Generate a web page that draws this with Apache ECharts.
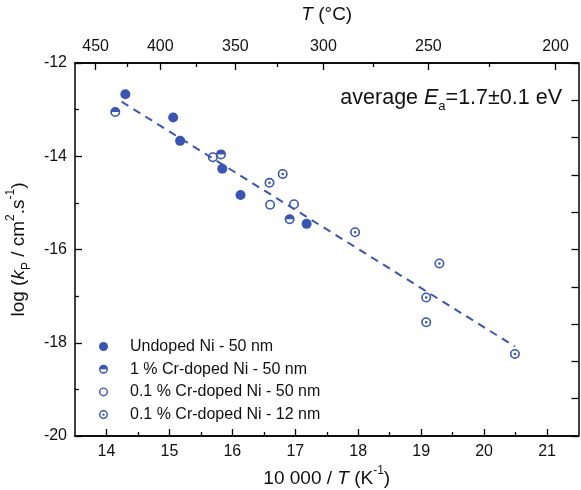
<!DOCTYPE html>
<html>
<head>
<meta charset="utf-8">
<script src="https://cdn.jsdelivr.net/npm/echarts@6/dist/echarts.min.js"></script>
<style>html,body{margin:0;padding:0;background:#fff}#c{width:581px;height:490px}</style>
</head>
<body>
<div id="c"></div>
<script>
// ---- data ----
const undopedX = [14.30, 15.06, 15.17, 15.84, 16.13, 17.18];
const undopedY = [-12.67, -13.17, -13.67, -14.27, -14.83, -15.45];
const cr1X = [14.14, 15.82, 16.91];
const cr1Y = [-13.05, -13.96, -15.35];
const cr01n50X = [15.69, 16.60, 16.98];
const cr01n50Y = [-14.02, -15.04, -15.03];
const cr01n12X = [16.59, 16.80, 17.95, 19.29, 19.08, 19.08, 20.49];
const cr01n12Y = [-14.57, -14.38, -15.63, -16.30, -17.03, -17.56, -18.24];
const fitX = [14.24, 20.49];
const fitY = [-12.83, -18.08];
const seriesNames = ['Undoped Ni - 50 nm', '1 % Cr-doped Ni - 50 nm', '0.1 % Cr-doped Ni - 50 nm', '0.1 % Cr-doped Ni - 12 nm'];
const bottomMajor = [14, 15, 16, 17, 18, 19, 20, 21];
const bottomMinor = [14.5, 15.5, 16.5, 17.5, 18.5, 19.5, 20.5];
const topMajorC = [450, 400, 350, 300, 250, 200];
const topMinorC = [425, 375, 325, 275, 225];

const zip = (xs, ys) => xs.map((x, i) => [x, ys[i]]);
const toInv = t => 10000 / (t + 273.15);

const BLUE = '#3a55b4';
const FONT = 'Liberation Sans';
const ringP = 'M50,0A50,50,0,1,1,50,100A50,50,0,1,1,50,0ZM50,16A34,34,0,1,0,50,84A34,34,0,1,0,50,16Z';
const SYM = {
  filled: 'circle',
  half: 'path://' + ringP + 'M16,50A34,34,0,0,1,84,50Z',
  open: 'path://' + ringP,
  dot: 'path://' + ringP + 'M50,37A13,13,0,1,1,50,63A13,13,0,1,1,50,37Z'
};

const rich = {
  n: {fontSize: 19, fontFamily: FONT, color: '#111', lineHeight: 28, verticalAlign: 'middle'},
  i: {fontSize: 19, fontFamily: FONT, color: '#111', fontStyle: 'italic', lineHeight: 28, verticalAlign: 'middle'},
  sub: {fontSize: 12, fontFamily: FONT, color: '#111', lineHeight: 13, verticalAlign: 'bottom'},
  sup: {fontSize: 12, fontFamily: FONT, color: '#111', lineHeight: 16, verticalAlign: 'top'}
};
const richBig = {
  n: {fontSize: 21.5, fontFamily: FONT, color: '#111', fontWeight: 'normal', lineHeight: 30, verticalAlign: 'middle'},
  i: {fontSize: 21.5, fontFamily: FONT, color: '#111', fontWeight: 'normal', fontStyle: 'italic', lineHeight: 30, verticalAlign: 'middle'},
  sub: {fontSize: 13, fontFamily: FONT, color: '#111', fontWeight: 'normal', lineHeight: 13, verticalAlign: 'bottom'}
};

const axLine = {show: true, lineStyle: {color: '#000', width: 1.5}};
const lbl = {fontSize: 16, fontFamily: FONT, color: '#111'};
const tickStyle = {color: '#000', width: 1.3};

function xAx(opts) {
  return Object.assign({
    type: 'value', min: 13.5, max: 21.5,
    axisLine: axLine, splitLine: {show: false},
  }, opts);
}

const option = {
  animation: false,
  backgroundColor: '#fff',
  grid: {left: 75, right: 2.5, top: 63, bottom: 54, containLabel: false, outerBoundsMode: 'none'},
  title: {
    text: '{n|average }{i|E}{sub|a}{n|=1.7±0.1 eV}',
    right: 14, top: 78,
    textStyle: {fontWeight: 'normal', rich: richBig}
  },
  legend: {
    orient: 'vertical', left: 94, top: 333,
    itemWidth: 9, itemHeight: 9, itemGap: 5.7,
    textStyle: {fontSize: 16, fontFamily: FONT, color: '#111', lineHeight: 17, padding: [0, 0, 0, 17]},
    data: seriesNames
  },
  xAxis: [
    xAx({position: 'bottom',
      name: '{n|10 000 / }{i|T}{n| (K}{sup|-1}{n|)}', nameLocation: 'middle', nameGap: 24,
      nameTextStyle: {rich: rich},
      axisTick: {show: true, inside: true, length: 7, customValues: bottomMajor, lineStyle: tickStyle},
      axisLabel: Object.assign({margin: 8, customValues: bottomMajor}, lbl)}),
    xAx({position: 'bottom',
      axisTick: {show: true, inside: true, length: 4, customValues: bottomMinor, lineStyle: tickStyle},
      axisLabel: {show: false}}),
    xAx({position: 'top',
      name: '{i|T}{n| (°C)}', nameLocation: 'middle', nameGap: 34,
      nameTextStyle: {rich: rich},
      axisTick: {show: true, inside: true, length: 7, customValues: topMajorC.map(toInv), lineStyle: tickStyle},
      axisLabel: Object.assign({margin: 8, customValues: topMajorC.map(toInv),
        formatter: v => String(Math.round(10000 / v - 273.15))}, lbl)}),
    xAx({position: 'top',
      axisTick: {show: true, inside: true, length: 4, customValues: topMinorC.map(toInv), lineStyle: tickStyle},
      axisLabel: {show: false}})
  ],
  yAxis: [
    {type: 'value', position: 'left', min: -20, max: -12, interval: 2,
      name: '{n|log (}{i|k}{sub|P}{n| / cm}{sup|2}{n|.s}{sup|-1}{n|)}', nameLocation: 'middle', nameGap: 31,
      nameTextStyle: {rich: rich},
      axisLine: axLine, splitLine: {show: false},
      axisTick: {show: true, inside: true, length: 7, lineStyle: tickStyle},
      minorTick: {show: true, splitNumber: 2, length: 4, lineStyle: tickStyle},
      axisLabel: Object.assign({margin: 8}, lbl)},
    {type: 'value', position: 'right', min: -20, max: -12, interval: 0.8,
      axisLine: axLine, splitLine: {show: false},
      axisTick: {show: true, inside: true, length: 7, lineStyle: tickStyle},
      axisLabel: {show: false}}
  ],
  series: [
    {type: 'line', name: 'fit', data: zip(fitX, fitY), showSymbol: false, symbol: 'none',
      lineStyle: {color: BLUE, width: 2, type: [8, 6]}, z: 1, silent: true},
    {type: 'scatter', name: seriesNames[0], data: zip(undopedX, undopedY), symbol: SYM.filled, symbolSize: 10,
      symbolKeepAspect: true, itemStyle: {color: BLUE, opacity: 1}, z: 3},
    {type: 'scatter', name: seriesNames[1], data: zip(cr1X, cr1Y), symbol: SYM.half, symbolSize: 10,
      symbolKeepAspect: true, itemStyle: {color: BLUE, opacity: 1}, z: 3},
    {type: 'scatter', name: seriesNames[2], data: zip(cr01n50X, cr01n50Y), symbol: SYM.open, symbolSize: 10,
      symbolKeepAspect: true, itemStyle: {color: BLUE, opacity: 1}, z: 3},
    {type: 'scatter', name: seriesNames[3], data: zip(cr01n12X, cr01n12Y), symbol: SYM.dot, symbolSize: 10,
      symbolKeepAspect: true, itemStyle: {color: BLUE, opacity: 1}, z: 3}
  ]
};
const chart = echarts.init(document.getElementById('c'), null, {renderer: 'canvas'});
chart.setOption(option);
</script>
</body>
</html>
